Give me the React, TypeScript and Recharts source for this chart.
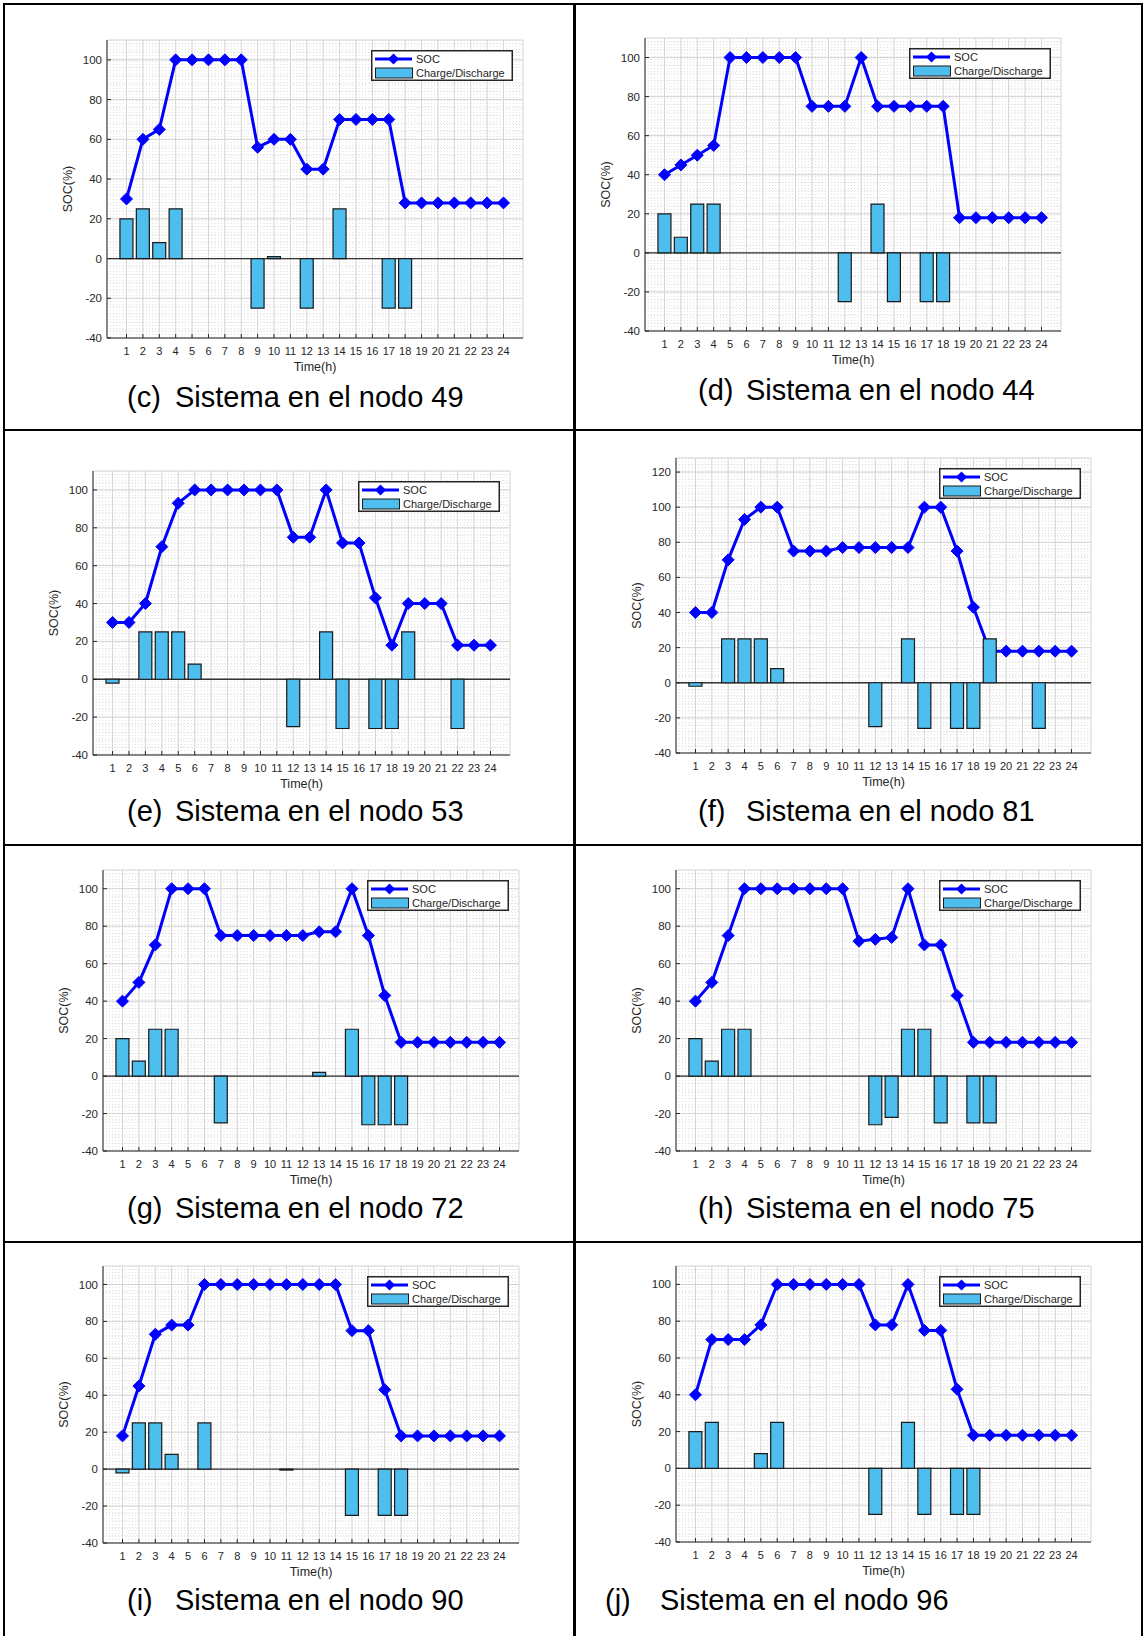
import React from 'react';
import { ComposedChart, Line, Bar, XAxis, YAxis, CartesianGrid, Legend, ReferenceLine } from 'recharts';

// hours on the x axis
const hours = [1, 2, 3, 4, 5, 6, 7, 8, 9, 10, 11, 12, 13, 14, 15, 16, 17, 18, 19, 20, 21, 22, 23, 24];

// SOC (%) and charge/discharge per node
const soc49 = [30, 60, 65, 100, 100, 100, 100, 100, 56, 60, 60, 45, 45, 70, 70, 70, 70, 28, 28, 28, 28, 28, 28, 28];
const bat49 = [20, 25, 8, 25, 0, 0, 0, 0, -25, 1, 0, -25, 0, 25, 0, 0, -25, -25, 0, 0, 0, 0, 0, 0];

const soc44 = [40, 45, 50, 55, 100, 100, 100, 100, 100, 75, 75, 75, 100, 75, 75, 75, 75, 75, 18, 18, 18, 18, 18, 18];
const bat44 = [20, 8, 25, 25, 0, 0, 0, 0, 0, 0, 0, -25, 0, 25, -25, 0, -25, -25, 0, 0, 0, 0, 0, 0];

const soc53 = [30, 30, 40, 70, 93, 100, 100, 100, 100, 100, 100, 75, 75, 100, 72, 72, 43, 18, 40, 40, 40, 18, 18, 18];
const bat53 = [-2, 0, 25, 25, 25, 8, 0, 0, 0, 0, 0, -25, 0, 25, -26, 0, -26, -26, 25, 0, 0, -26, 0, 0];

const soc81 = [40, 40, 70, 93, 100, 100, 75, 75, 75, 77, 77, 77, 77, 77, 100, 100, 75, 43, 18, 18, 18, 18, 18, 18];
const bat81 = [-2, 0, 25, 25, 25, 8, 0, 0, 0, 0, 0, -25, 0, 25, -26, 0, -26, -26, 25, 0, 0, -26, 0, 0];

const soc72 = [40, 50, 70, 100, 100, 100, 75, 75, 75, 75, 75, 75, 77, 77, 100, 75, 43, 18, 18, 18, 18, 18, 18, 18];
const bat72 = [20, 8, 25, 25, 0, 0, -25, 0, 0, 0, 0, 0, 2, 0, 25, -26, -26, -26, 0, 0, 0, 0, 0, 0];

const soc75 = [40, 50, 75, 100, 100, 100, 100, 100, 100, 100, 72, 73, 74, 100, 70, 70, 43, 18, 18, 18, 18, 18, 18, 18];
const bat75 = [20, 8, 25, 25, 0, 0, 0, 0, 0, 0, 0, -26, -22, 25, 25, -25, 0, -25, -25, 0, 0, 0, 0, 0];

const soc90 = [18, 45, 73, 78, 78, 100, 100, 100, 100, 100, 100, 100, 100, 100, 75, 75, 43, 18, 18, 18, 18, 18, 18, 18];
const bat90 = [-2, 25, 25, 8, 0, 25, 0, 0, 0, 0, -0.5, 0, 0, 0, -25, 0, -25, -25, 0, 0, 0, 0, 0, 0];

const soc96 = [40, 70, 70, 70, 78, 100, 100, 100, 100, 100, 100, 78, 78, 100, 75, 75, 43, 18, 18, 18, 18, 18, 18, 18];
const bat96 = [20, 25, 0, 0, 8, 25, 0, 0, 0, 0, 0, -25, 0, 25, -25, 0, -25, -25, 0, 0, 0, 0, 0, 0];

const yTicks = [-40, -20, 0, 20, 40, 60, 80, 100];
const yTicksHigh = [-40, -20, 0, 20, 40, 60, 80, 100, 120];

const FONT = '"Liberation Sans", Arial, Helvetica, sans-serif';
const BLUE = '#0000ff';
const BAR = '#4dbeee';
const INK = '#262626';
const R = 0.69; // matlab xlim padding, in category widths beyond the half band

const panels = [
  { key: 'c', soc: soc49, bat: bat49, x0: 107, x1: 523, y0: 40, y1: 338, yMax: 110, tag: '(c)', text: 'Sistema en el nodo 49', tagX: 127, textX: 175, base: 407 },
  { key: 'd', soc: soc44, bat: bat44, x0: 645, x1: 1061, y0: 38, y1: 331, yMax: 110, tag: '(d)', text: 'Sistema en el nodo 44', tagX: 698, textX: 746, base: 400 },
  { key: 'e', soc: soc53, bat: bat53, x0: 93, x1: 510, y0: 471, y1: 755, yMax: 110, tag: '(e)', text: 'Sistema en el nodo 53', tagX: 127, textX: 175, base: 821 },
  { key: 'f', soc: soc81, bat: bat81, x0: 676, x1: 1091, y0: 458, y1: 753, yMax: 128, tag: '(f)', text: 'Sistema en el nodo 81', tagX: 698, textX: 746, base: 821 },
  { key: 'g', soc: soc72, bat: bat72, x0: 103, x1: 519, y0: 870, y1: 1151, yMax: 110, tag: '(g)', text: 'Sistema en el nodo 72', tagX: 127, textX: 175, base: 1218 },
  { key: 'h', soc: soc75, bat: bat75, x0: 676, x1: 1091, y0: 870, y1: 1151, yMax: 110, tag: '(h)', text: 'Sistema en el nodo 75', tagX: 698, textX: 746, base: 1218 },
  { key: 'i', soc: soc90, bat: bat90, x0: 103, x1: 519, y0: 1266, y1: 1543, yMax: 110, tag: '(i)', text: 'Sistema en el nodo 90', tagX: 127, textX: 175, base: 1610 },
  { key: 'j', soc: soc96, bat: bat96, x0: 676, x1: 1091, y0: 1266, y1: 1542, yMax: 110, tag: '(j)', text: 'Sistema en el nodo 96', tagX: 605, textX: 660, base: 1610 },
];

const diamond = (cx: number, cy: number, r: number) =>
  `M${cx},${cy - r}L${cx + r},${cy}L${cx},${cy + r}L${cx - r},${cy}Z`;

const renderDiamond = (props: any) => {
  const { cx, cy, index } = props;
  if (cx == null || cy == null) return <g key={index} />;
  return <path key={index} d={diamond(cx, cy, 6)} fill={BLUE} stroke={BLUE} strokeWidth={1} />;
};

const LegendBox = () => (
  <svg width={142} height={31} style={{ display: 'block', fontFamily: FONT }}>
    <rect x={0.75} y={0.75} width={140.5} height={29.5} fill="#fff" stroke={INK} strokeWidth={1.5} />
    <line x1={4} y1={9} x2={41} y2={9} stroke={BLUE} strokeWidth={3} />
    <path d={diamond(22.5, 9, 5.5)} fill={BLUE} />
    <text x={45} y={9} dominantBaseline="central" fontSize={11} fill={INK}>SOC</text>
    <rect x={4.5} y={18} width={37} height={10} fill={BAR} stroke="#1a1a1a" strokeWidth={1} />
    <text x={45} y={23} dominantBaseline="central" fontSize={11} fill={INK}>Charge/Discharge</text>
  </svg>
);

const SocLabel = (props: any) => {
  const vb = props.viewBox || {};
  const cx = vb.x + vb.width - 39;
  const cy = vb.y + vb.height / 2;
  return (
    <text x={cx} y={cy} transform={`rotate(-90 ${cx} ${cy})`} textAnchor="middle" dominantBaseline="central"
      fontSize={12.5} fill={INK} fontFamily={FONT}>
      SOC(%)
    </text>
  );
};

function Panel({ p }: { p: any }) {
  const W = p.x1 - p.x0 + 70;
  const H = p.y1 - p.y0 + 60;
  const plotW = p.x1 - p.x0;
  const pad = (R * plotW) / (24 + 2 * R);
  const data = hours.map((h, i) => ({ h: String(h), soc: p.soc[i], bat: p.bat[i] }));
  const ticks = p.yMax > 120 ? yTicksHigh : yTicks;

  // minor dotted grid like matlab's "grid minor"
  const minorY: number[] = [];
  for (let v = -40; v <= p.yMax; v += 4) minorY.push(v);
  const minorX: number[] = [];
  for (let k = 0; k <= 125; k++) minorX.push(k * 0.2);

  const hGen = ({ offset }: any) =>
    minorY.map((v) => offset.top + ((p.yMax - v) / (p.yMax + 40)) * offset.height);
  const vGen = ({ offset }: any) => {
    const s = offset.width / (24 + 2 * R);
    return minorX.map((v) => offset.left + (v - 0.5 + R) * s);
  };

  return (
    <div style={{ position: 'absolute', left: p.x0 - 60, top: p.y0 - 10 }}>
      <ComposedChart width={W} height={H} data={data} margin={{ top: 10, right: 10, bottom: 0, left: 0 }}
        style={{ fontFamily: FONT }}>
        <CartesianGrid stroke="#dedede" strokeDasharray="1 2"
          horizontalCoordinatesGenerator={hGen} verticalCoordinatesGenerator={vGen} />
        <CartesianGrid stroke="#d4d4d4" />
        <XAxis dataKey="h" interval={0} height={50} padding={{ left: pad, right: pad }}
          tickSize={-4} tickMargin={13} stroke={INK}
          tick={{ fontSize: 11, fill: INK }}
          label={{ value: 'Time(h)', position: 'insideBottom', offset: 17, fontSize: 12.5, fill: INK }} />
        <XAxis xAxisId="top" orientation="top" dataKey="h" interval={0} height={0}
          padding={{ left: pad, right: pad }} tickSize={-4} stroke={INK} tickFormatter={() => ''} />
        <YAxis type="number" domain={[-40, p.yMax]} ticks={ticks} allowDataOverflow width={60}
          tickSize={-4} tickMargin={9} stroke={INK} tick={{ fontSize: 11.5, fill: INK }}
          label={{ content: SocLabel }} />
        <YAxis yAxisId="r" orientation="right" type="number" domain={[-40, p.yMax]} ticks={ticks}
          allowDataOverflow width={0} tickSize={-4} stroke={INK} tickFormatter={() => ''} />
        <ReferenceLine y={0} stroke="#333" strokeWidth={1.3} />
        <Line xAxisId="top" yAxisId="r" dataKey="soc" stroke="none" dot={false} activeDot={false}
          isAnimationActive={false} />
        <Line dataKey="soc" name="SOC" stroke={BLUE} strokeWidth={3} dot={renderDiamond} activeDot={false}
          isAnimationActive={false} />
        <Bar dataKey="bat" name="Charge/Discharge" fill={BAR} stroke="#1a1a1a" strokeWidth={1.2}
          zIndex={1500} isAnimationActive={false} />
        <Legend layout="horizontal" verticalAlign="middle" align="center" content={() => <LegendBox />}
          wrapperStyle={{ left: W - 162, top: 20, width: 142, height: 31 }} />
      </ComposedChart>
    </div>
  );
}

const capStyle = (x: number, base: number): React.CSSProperties => ({
  position: 'absolute',
  left: x,
  top: base - 24.5,
  fontSize: 29,
  lineHeight: '29px',
  fontFamily: FONT,
  color: '#000',
  whiteSpace: 'nowrap',
});

const rule = (left: number, top: number, width: number, height: number): React.CSSProperties => ({
  position: 'absolute', left, top, width, height, background: '#000',
});

export default function App() {
  return (
    <div style={{ position: 'absolute', left: 0, top: 0, width: 1143, height: 1636, background: '#fff', overflow: 'hidden' }}>
      {/* table lines */}
      <div style={rule(3, 3, 1140, 2)} />
      <div style={rule(3, 3, 2, 1633)} />
      <div style={rule(1141, 3, 2, 1633)} />
      <div style={rule(573, 3, 3, 1633)} />
      <div style={rule(3, 429, 1140, 2)} />
      <div style={rule(3, 844, 1140, 2)} />
      <div style={rule(3, 1241, 1140, 2)} />

      {panels.map((p) => (
        <React.Fragment key={p.key}>
          <Panel p={p} />
          <div style={capStyle(p.tagX, p.base)}>{p.tag}</div>
          <div style={capStyle(p.textX, p.base)}>{p.text}</div>
        </React.Fragment>
      ))}
    </div>
  );
}
